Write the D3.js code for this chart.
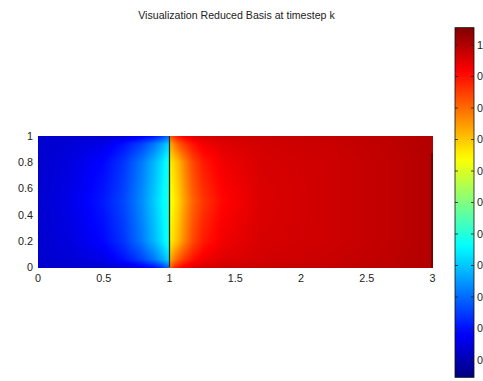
<!DOCTYPE html>
<html><head><meta charset="utf-8">
<script src="https://cdn.jsdelivr.net/npm/d3@7"></script>
<style>
body{margin:0;background:#fff}
svg{display:block;font-family:"Liberation Sans",Arial,Helvetica,sans-serif}
</style>
</head><body>
<svg id="chart" width="483" height="381"></svg>
<script>
// Axis ticks
const xTicks = [0, 0.5, 1, 1.5, 2, 2.5, 3];
const yTicks = [0, 0.2, 0.4, 0.6, 0.8, 1];
const cbTicks = [0, 0.1, 0.2, 0.3, 0.4, 0.5, 0.6, 0.7, 0.8, 0.9, 1];
const cbTickLabels = ["0", "0.1", "0.2", "0.3", "0.4", "0.5", "0.6", "0.7", "0.8", "0.9", "1"];
const colorRange = [-0.055, 1.055];

// Mesh node rows (shared by both subdomains)
const nodeY = [0, 0.06, 0.2, 0.5, 0.8, 0.94, 1];

// Left subdomain [0,1] x [0,1]
const leftX = [0, 0.25, 0.5, 0.65, 0.78, 0.88, 0.94, 0.98, 1.0];
const leftU = [
  [0.03, 0.03, 0.03, 0.04, 0.07, 0.10, 0.14, 0.18, 0.20],
  [0.03, 0.04, 0.06, 0.10, 0.15, 0.21, 0.26, 0.30, 0.32],
  [0.03, 0.05, 0.09, 0.14, 0.21, 0.28, 0.33, 0.37, 0.39],
  [0.03, 0.06, 0.11, 0.16, 0.23, 0.30, 0.35, 0.38, 0.40],
  [0.03, 0.05, 0.09, 0.14, 0.21, 0.28, 0.33, 0.37, 0.39],
  [0.03, 0.04, 0.06, 0.10, 0.15, 0.21, 0.26, 0.30, 0.32],
  [0.03, 0.03, 0.03, 0.04, 0.07, 0.10, 0.14, 0.18, 0.20]
];

// Right subdomain [1,3] x [0,1]
const rightX = [1.0, 1.03, 1.07, 1.12, 1.18, 1.26, 1.4, 1.7, 2.2, 2.7, 3.0];
const rightU = [
  [0.80, 0.86, 0.90, 0.93, 0.95, 0.96, 0.97, 0.975, 0.98, 0.99, 1.0],
  [0.72, 0.77, 0.82, 0.86, 0.90, 0.93, 0.95, 0.965, 0.975, 0.988, 1.0],
  [0.65, 0.68, 0.72, 0.78, 0.84, 0.89, 0.93, 0.96, 0.97, 0.985, 1.0],
  [0.62, 0.65, 0.69, 0.75, 0.81, 0.86, 0.91, 0.955, 0.97, 0.985, 1.0],
  [0.65, 0.68, 0.72, 0.78, 0.84, 0.89, 0.93, 0.96, 0.97, 0.985, 1.0],
  [0.72, 0.77, 0.82, 0.86, 0.90, 0.93, 0.95, 0.965, 0.975, 0.988, 1.0],
  [0.80, 0.86, 0.90, 0.93, 0.95, 0.96, 0.97, 0.975, 0.98, 0.99, 1.0]
];

const svg = d3.select("#chart");

const x = d3.scaleLinear().domain([0, 3]).range([38, 432.5]);
const y = d3.scaleLinear().domain([0, 1]).range([267.5, 136]);
const toT = d3.scaleLinear().domain(colorRange).range([0, 1]).clamp(true);

// jet colormap
function jet(t) {
  const c = v => Math.max(0, Math.min(1, v));
  return [c(1.5 - Math.abs(4 * t - 3)), c(1.5 - Math.abs(4 * t - 2)), c(1.5 - Math.abs(4 * t - 1))];
}
const color = v => jet(toT(v));

// bilinear value on a node grid
function sample(xs, U, px, py) {
  const i = Math.min(Math.max(d3.bisectRight(xs, px) - 1, 0), xs.length - 2);
  const j = Math.min(Math.max(d3.bisectRight(nodeY, py) - 1, 0), nodeY.length - 2);
  const fx = (px - xs[i]) / (xs[i + 1] - xs[i]);
  const fy = (py - nodeY[j]) / (nodeY[j + 1] - nodeY[j]);
  const a = U[j][i] * (1 - fx) + U[j][i + 1] * fx;
  const b = U[j + 1][i] * (1 - fx) + U[j + 1][i + 1] * fx;
  return a * (1 - fy) + b * fy;
}

// field raster
const px0 = Math.round(x(0)), px1 = Math.round(x(3));
const py0 = Math.round(y(1)), py1 = Math.round(y(0));
const cw = px1 - px0, ch = py1 - py0;
const canvas = document.createElement("canvas");
canvas.width = cw; canvas.height = ch;
const ctx = canvas.getContext("2d");
const img = ctx.createImageData(cw, ch);
for (let r = 0; r < ch; r++) {
  const yv = Math.max(0, Math.min(1, y.invert(py0 + r + 0.5)));
  for (let c = 0; c < cw; c++) {
    const xv = Math.max(0, Math.min(3, x.invert(px0 + c + 0.5)));
    const v = xv < 1 ? sample(leftX, leftU, xv, yv) : sample(rightX, rightU, xv, yv);
    const col = color(v);
    const k = (r * cw + c) * 4;
    img.data[k] = Math.round(col[0] * 255);
    img.data[k + 1] = Math.round(col[1] * 255);
    img.data[k + 2] = Math.round(col[2] * 255);
    img.data[k + 3] = 255;
  }
}
ctx.putImageData(img, 0, 0);
svg.append("image")
  .attr("x", px0).attr("y", py0).attr("width", cw).attr("height", ch)
  .attr("preserveAspectRatio", "none")
  .attr("href", canvas.toDataURL());

// subdomain interface and right edge
svg.append("line")
  .attr("x1", x(1)).attr("x2", x(1)).attr("y1", y(0)).attr("y2", y(1))
  .attr("stroke", "#2b2f2b").attr("stroke-width", 1.3);
svg.append("line")
  .attr("x1", x(3) - 0.5).attr("x2", x(3) - 0.5).attr("y1", y(0)).attr("y2", y(0.87))
  .attr("stroke", "#3a0000").attr("stroke-width", 1);

// axes labels
const fs = "10.8px";
svg.append("g").selectAll("text").data(xTicks).join("text")
  .attr("x", d => x(d)).attr("y", 282)
  .attr("text-anchor", "middle").attr("font-size", fs).attr("fill", "#222")
  .text(d => d3.format("~g")(d));
svg.append("g").selectAll("text").data(yTicks).join("text")
  .attr("x", 33).attr("y", d => y(d) + 3.8)
  .attr("text-anchor", "end").attr("font-size", fs).attr("fill", "#222")
  .text(d => d3.format("~g")(d));

// title
svg.append("text")
  .attr("x", 236.5).attr("y", 18.5)
  .attr("text-anchor", "middle").attr("font-size", "10.6px").attr("fill", "#222")
  .text("Visualization Reduced Basis at timestep k");

// colorbar
const cb = d3.scaleLinear().domain([0, 1]).range([360, 45]);
const cbX = 455, cbW = 19;
const defs = svg.append("defs");
const grad = defs.append("linearGradient").attr("id", "jetbar")
  .attr("x1", 0).attr("x2", 0).attr("y1", 1).attr("y2", 0);
d3.range(0, 1.0001, 0.02).forEach(t => {
  const c = jet(t);
  grad.append("stop").attr("offset", t)
    .attr("stop-color", d3.rgb(c[0] * 255, c[1] * 255, c[2] * 255));
});
svg.append("rect")
  .attr("x", cbX).attr("y", cb(colorRange[1]))
  .attr("width", cbW).attr("height", cb(colorRange[0]) - cb(colorRange[1]))
  .attr("fill", "url(#jetbar)").attr("stroke", "#111").attr("stroke-width", 0.8);
const tg = svg.append("g");
tg.selectAll("line.l").data(cbTicks).join("line").attr("class", "l")
  .attr("x1", cbX).attr("x2", cbX + 3).attr("y1", d => cb(d)).attr("y2", d => cb(d))
  .attr("stroke", "#222").attr("stroke-width", 0.8);
tg.selectAll("line.r").data(cbTicks).join("line").attr("class", "r")
  .attr("x1", cbX + cbW - 3).attr("x2", cbX + cbW).attr("y1", d => cb(d)).attr("y2", d => cb(d))
  .attr("stroke", "#222").attr("stroke-width", 0.8);
// labels run past the right edge of the figure, as in the exported image
tg.selectAll("text").data(cbTicks).join("text")
  .attr("x", 477).attr("y", d => cb(d) + 3.8)
  .attr("font-size", fs).attr("fill", "#222")
  .text((d, i) => cbTickLabels[i]);
</script>
</body></html>
